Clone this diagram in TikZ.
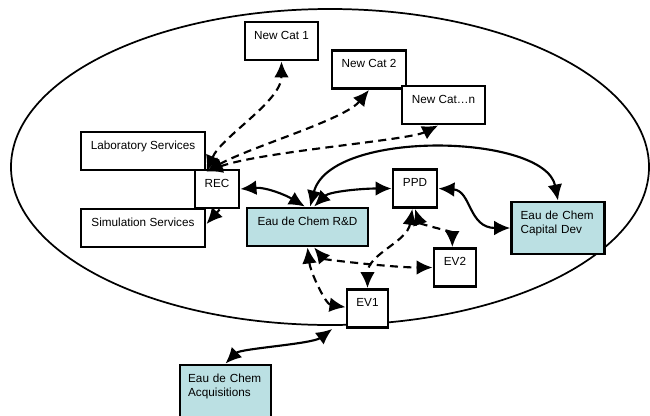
\documentclass[tikz,border=0pt]{standalone}
\usepackage{fontspec}
\setmainfont{Liberation Sans}
\usepackage{tikz}
\usetikzlibrary{arrows.meta}

\definecolor{chemblue}{RGB}{187,224,227}

\tikzset{
	box/.style={draw, line width=2.2pt, fill=white, inner sep=0pt, text height=12.75pt, text depth=15.75pt, font=\fontsize{8.8}{10.5}\selectfont},
	chem/.style={box, fill=chemblue},
	link/.style={line width=1.6pt, {Latex[length=12pt,width=11pt]}-{Latex[length=12pt,width=11pt]}},
	dlink/.style={link, dash pattern=on 6pt off 4pt},
}

\begin{document}
\begin{tikzpicture}[x=0.75pt, y=-0.75pt]

\clip (0,0) rectangle (650,415);

\draw[line width=1.3pt] (330,167) ellipse [x radius=239.25pt, y radius=118.5pt];

\node[box, minimum width=54.75pt] (cat1) at (281.5,41) {New Cat 1};
\node[box, minimum width=55.5pt] (cat2) at (369,69.5) {New Cat 2};
\node[box, minimum width=62.25pt] (catn) at (443.5,105) {New Cat\ldots n};
\node[box, minimum width=93pt] (lab) at (143,151) {Laboratory Services};
\node[box, minimum width=33pt] (rec) at (217,189) {REC};
\node[box, minimum width=93pt] (sim) at (143,228) {Simulation Services};
\node[chem, minimum width=90.75pt] (rd) at (307.5,227) {Eau de Chem R\&D};
\node[box, minimum width=33pt] (ppd) at (415,188.5) {PPD};
\node[chem, text width=56pt, inner xsep=6.75pt, align=left, text depth=26.25pt] (cap) at (558,228) {Eau de Chem\\Capital Dev};
\node[box, minimum width=31.5pt] (ev2) at (455,267.5) {EV2};
\node[box, minimum width=30.75pt] (ev1) at (367.5,308.5) {EV1};
\node[chem, text width=56pt, inner xsep=6.125pt, align=left, text depth=39.75pt] (acq) at (225.5,400) {Eau de Chem\\Acquisitions};

\draw[dlink] (lab.south east) .. controls +(15,-35) and +(0,40) .. (cat1.south);
\draw[dlink] (lab.south east) .. controls +(45,-25) and +(-25,30) .. (cat2.south);
\draw[dlink] (lab.south east) .. controls +(55,-20) and +(-30,15) .. ([xshift=-4pt]catn.south);
\draw[link, -{Latex[length=12pt,width=11pt]}] ([xshift=2pt]rec.south) -- ([yshift=3pt]sim.east);

\draw[link] (rec.east) .. controls +(25,-2) and +(-20,-12) .. ([xshift=-2pt]rd.north);
\draw[link] ([xshift=5pt]rd.north) .. controls +(15,-15) and +(-30,0) .. (ppd.west);
\draw[link] ([xshift=2pt]rd.north) .. controls +(20,-78) and +(-13,-67) .. (cap.north);
\draw[link] (ppd.east) .. controls +(33,2) and +(-42,0) .. (cap.west);

\draw[dlink] ([xshift=-2pt]ppd.south) .. controls +(-5,33) and +(0,-34) .. (ev1.north);
\draw[dlink] (ppd.south) .. controls +(5,15) and +(0,-15) .. ([xshift=-2pt]ev2.north);
\draw[dlink] ([xshift=5pt]rd.south) .. controls +(10,12) and +(-40,0) .. (ev2.west);
\draw[dlink] (rd.south) .. controls +(3,25) and +(-20,-3) .. ([yshift=1pt]ev1.west);

\draw[link] ([xshift=-10pt]ev1.south west) .. controls +(-20,15) and +(15,-15) .. (acq.north);

\end{tikzpicture}
\end{document}
